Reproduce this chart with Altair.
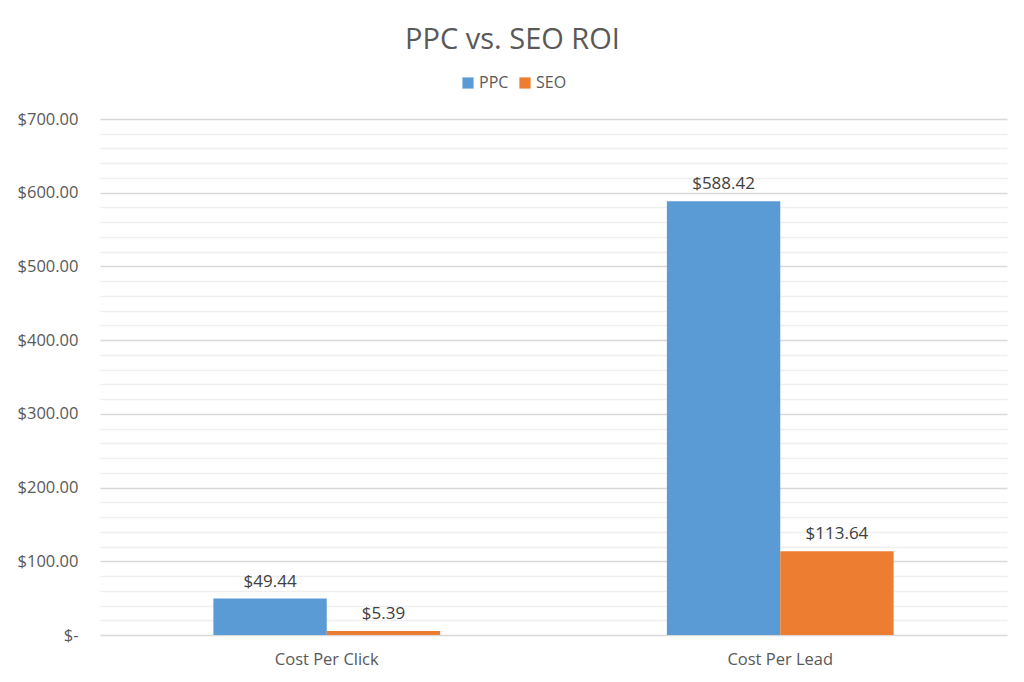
import altair as alt
import pandas as pd

categories = ["Cost Per Click", "Cost Per Lead"]
series = ["PPC", "SEO"]
ppc_values = [49.44, 588.42]
seo_values = [5.39, 113.64]
tick_values = list(range(0, 701, 20))

rows = []
for i, c in enumerate(categories):
    rows.append({"category": c, "series": "PPC", "value": ppc_values[i]})
    rows.append({"category": c, "series": "SEO", "value": seo_values[i]})
df = pd.DataFrame(rows)

FONT = "Open Sans"

x = alt.X("category:N", sort=categories, title=None,
          scale=alt.Scale(paddingInner=0.5, paddingOuter=0.25),
          axis=alt.Axis(labelAngle=0, domain=False, ticks=False, grid=False,
                        labelFontSize=16.5, labelColor="#595959", labelFont=FONT,
                        labelPadding=16))
xo = alt.XOffset("series:N", sort=series, scale=alt.Scale(paddingInner=0, paddingOuter=0))
y = alt.Y("value:Q", title=None,
          scale=alt.Scale(domain=[0, 700], nice=False),
          axis=alt.Axis(values=tick_values, domain=False, ticks=False,
                        gridColor={"condition": {"test": "datum.value % 100 === 0", "value": "#d9d9d9"},
                                   "value": "#efefef"},
                        gridWidth=1.3,
                        labelExpr="datum.value === 0 ? '$-' : (datum.value % 100 === 0 ? '$' + format(datum.value, ',.2f') : '')",
                        labelFontSize=16.5, labelColor="#595959", labelFont=FONT,
                        labelPadding=22))

color = alt.Color("series:N", sort=series,
                  scale=alt.Scale(domain=series, range=["#5B9BD5", "#ED7D31"]),
                  legend=alt.Legend(title=None, orient="none", legendX=360, legendY=-44,
                                    direction="horizontal", symbolType="square",
                                    symbolSize=125, symbolStrokeWidth=0,
                                    labelFontSize=16, labelColor="#595959", labelFont=FONT,
                                    columnPadding=8, labelOffset=3))

base = alt.Chart(df).encode(x=x, xOffset=xo, y=y)
bars = base.mark_bar(stroke=None).encode(color=color)
labels = base.mark_text(baseline="bottom", dy=-8, fontSize=17, color="#404040", font=FONT).encode(
    text=alt.Text("value:Q", format="$,.2f"))

chart = alt.layer(bars, labels).properties(
    width=907, height=516,
    autosize=alt.AutoSizeParams(type="none"),
    padding={"left": 92, "top": 111, "right": 9, "bottom": 39},
    title=alt.TitleParams("PPC vs. SEO ROI", fontSize=29, font=FONT, color="#595959",
                          fontWeight="normal", anchor="middle", dx=-41, offset=20),
).configure_view(stroke=None)

chart.save("out.html", embed_options={"renderer": "svg", "actions": False})
